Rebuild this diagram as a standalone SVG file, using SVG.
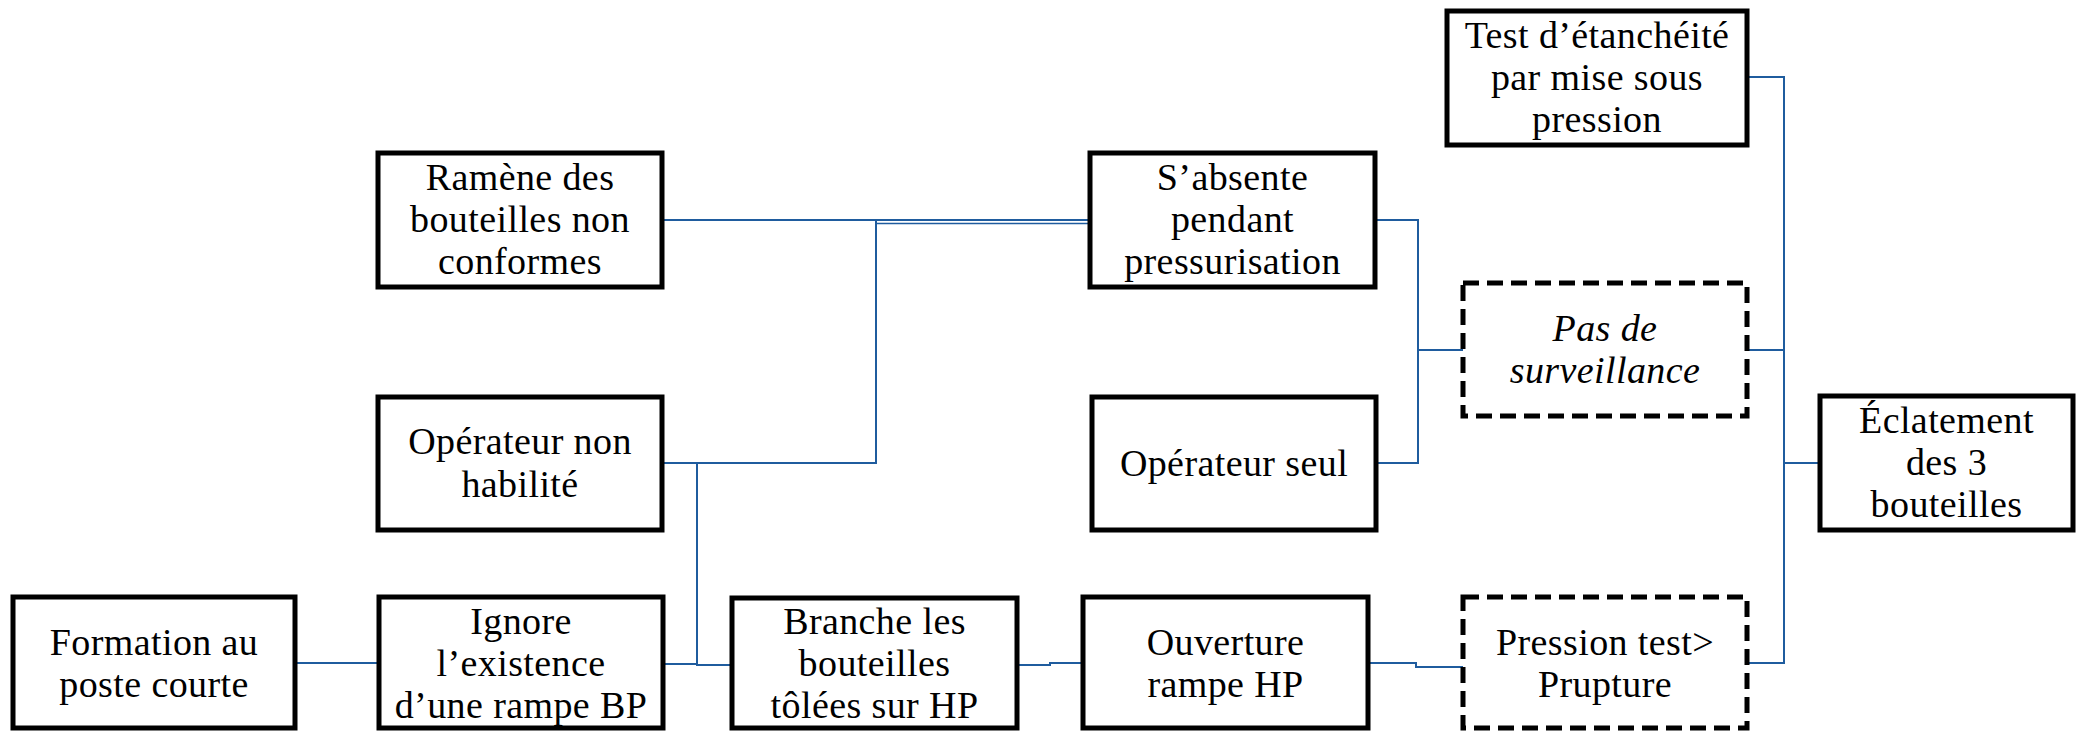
<svg xmlns="http://www.w3.org/2000/svg" width="2078" height="731" viewBox="0 0 2078 731">
<style>
.box{fill:#fff;stroke:#000;stroke-width:5}
.dash{fill:#fff;stroke:#000;stroke-width:5;stroke-dasharray:16 8}
.t{font-family:"Liberation Serif","DejaVu Serif",serif;font-size:38px;letter-spacing:0.4px;fill:#000;text-anchor:middle}
.i{font-style:italic}
.c{fill:none;stroke:#1f5c9e;stroke-width:2}
.c2{fill:none;stroke:#1f5c9e;stroke-width:1.6}
</style>
<rect width="2078" height="731" fill="#fff"/>
<g id="connectors">
<path class="c" d="M295 663H379"/>
<path class="c" d="M663 664H697V665H732"/>
<path class="c" d="M662 463H876V220"/>
<path class="c" d="M697 463V665"/>
<path class="c" d="M662 220H1090"/>
<path class="c2" d="M876 223.5H1090"/>
<path class="c" d="M1017 665H1050V663H1083"/>
<path class="c" d="M1368 663H1416V667H1463"/>
<path class="c" d="M1375 220H1418V463H1376"/>
<path class="c" d="M1418 350H1463"/>
<path class="c" d="M1747 77H1784V663H1747"/>
<path class="c" d="M1747 350H1784"/>
<path class="c" d="M1784 463H1820"/>
</g>
<g id="formation">
<rect class="box" x="13" y="597" width="282" height="131"/>
<text class="t" x="154" y="655">Formation au</text>
<text class="t" x="154" y="697">poste courte</text>
</g>
<g id="ignore">
<rect class="box" x="379" y="597" width="284" height="131"/>
<text class="t" x="521" y="634">Ignore</text>
<text class="t" x="521" y="676">l’existence</text>
<text class="t" x="521" y="718">d’une rampe BP</text>
</g>
<g id="branche">
<rect class="box" x="732" y="598" width="285" height="130"/>
<text class="t" x="874.5" y="634">Branche les</text>
<text class="t" x="874.5" y="676">bouteilles</text>
<text class="t" x="874.5" y="718">tôlées sur HP</text>
</g>
<g id="ouverture">
<rect class="box" x="1083" y="597" width="285" height="131"/>
<text class="t" x="1225.5" y="655">Ouverture</text>
<text class="t" x="1225.5" y="697">rampe HP</text>
</g>
<g id="pression">
<rect class="dash" x="1463" y="597" width="284" height="131"/>
<text class="t" x="1605" y="655">Pression test&gt;</text>
<text class="t" x="1605" y="697">Prupture</text>
</g>
<g id="ramene">
<rect class="box" x="378" y="153" width="284" height="134"/>
<text class="t" x="520" y="190">Ramène des</text>
<text class="t" x="520" y="232">bouteilles non</text>
<text class="t" x="520" y="274">conformes</text>
</g>
<g id="operateur-non-habilite">
<rect class="box" x="378" y="397" width="284" height="133"/>
<text class="t" x="520" y="454">Opérateur non</text>
<text class="t" x="520" y="497">habilité</text>
</g>
<g id="absente">
<rect class="box" x="1090" y="153" width="285" height="134"/>
<text class="t" x="1232.5" y="190">S’absente</text>
<text class="t" x="1232.5" y="232">pendant</text>
<text class="t" x="1232.5" y="274">pressurisation</text>
</g>
<g id="operateur-seul">
<rect class="box" x="1092" y="397" width="284" height="133"/>
<text class="t" x="1234" y="476">Opérateur seul</text>
</g>
<g id="surveillance">
<rect class="dash" x="1463" y="283" width="284" height="133"/>
<text class="t i" x="1605" y="341">Pas de</text>
<text class="t i" x="1605" y="383">surveillance</text>
</g>
<g id="test">
<rect class="box" x="1447" y="11" width="300" height="134"/>
<text class="t" x="1597" y="48">Test d’étanchéité</text>
<text class="t" x="1597" y="90">par mise sous</text>
<text class="t" x="1597" y="132">pression</text>
</g>
<g id="eclatement">
<rect class="box" x="1820" y="396" width="253" height="134"/>
<text class="t" x="1946.5" y="433">Éclatement</text>
<text class="t" x="1946.5" y="475">des 3</text>
<text class="t" x="1946.5" y="517">bouteilles</text>
</g>
</svg>
